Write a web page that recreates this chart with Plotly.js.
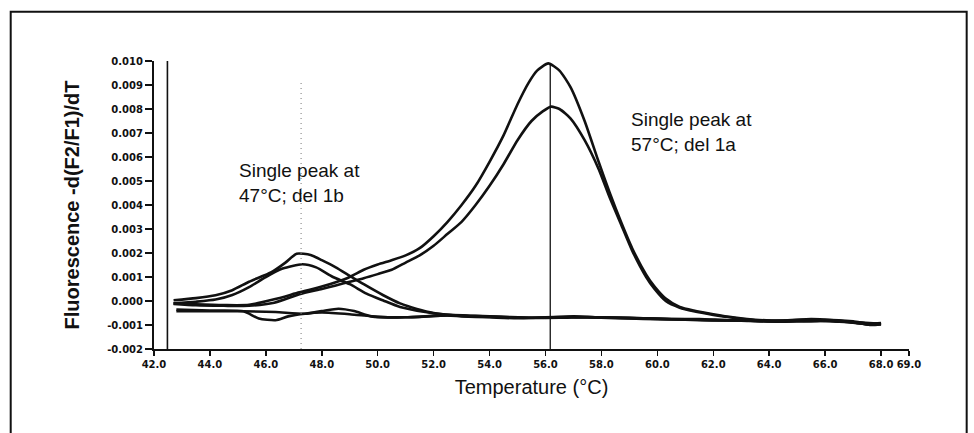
<!DOCTYPE html>
<html>
<head>
<meta charset="utf-8">
<script src="https://cdn.plot.ly/plotly-3.0.1.min.js"></script>
<style>
  html, body { margin: 0; padding: 0; background: #fff; }
  #chart { width: 974px; height: 433px; }
</style>
</head>
<body>
<div id="chart"></div>
<script>
// ---- Data ----
// del 1a, higher peak
const a1Temp = [42.7, 43.5, 44.5, 45.4, 46.3, 47.2, 48.0, 48.5, 49.0, 49.5, 50.0, 50.5, 51.0, 51.5, 52.0, 52.5, 53.0, 53.5, 54.0, 54.5, 55.0, 55.4, 55.7, 56.1, 56.5, 56.9, 57.4, 57.9, 58.3, 58.7, 59.1, 59.6, 59.9, 60.3, 60.8, 61.3, 62.0, 62.7, 63.5, 64.5, 65.5, 66.3, 67.0, 67.6, 68.0];
const a1Val  = [-0.0001, -0.00014, -0.00017, -0.00016, 0.00007, 0.00036, 0.0006, 0.00078, 0.001, 0.0013, 0.00152, 0.0017, 0.0019, 0.0022, 0.0027, 0.0033, 0.004, 0.0048, 0.0058, 0.0069, 0.0082, 0.0091, 0.0096, 0.0099, 0.0096, 0.0089, 0.0075, 0.0058, 0.0045, 0.0033, 0.0022, 0.0011, 0.0006, 0.0001, -0.00025, -0.0004, -0.00055, -0.00068, -0.00078, -0.00083, -0.00085, -0.00082, -0.0009, -0.00098, -0.00095];
// del 1a, lower peak
const a2Temp = [42.7, 43.5, 44.5, 45.4, 46.3, 47.2, 48.0, 48.5, 49.0, 49.5, 50.0, 50.5, 51.0, 51.5, 52.0, 52.5, 53.0, 53.5, 54.0, 54.5, 55.0, 55.5, 55.9, 56.2, 56.5, 56.9, 57.4, 57.9, 58.3, 58.7, 59.1, 59.6, 59.9, 60.3, 60.8, 61.3, 62.0, 62.7, 63.5, 64.5, 65.5, 66.3, 67.0, 67.6, 68.0];
const a2Val  = [-0.00012, -0.00018, -0.0002, -0.0002, -0.00007, 0.00028, 0.0005, 0.00065, 0.0008, 0.00095, 0.00112, 0.0013, 0.0016, 0.0019, 0.0023, 0.0028, 0.0033, 0.004, 0.0048, 0.0057, 0.0067, 0.0075, 0.0079, 0.0081, 0.008, 0.0076, 0.0067, 0.0055, 0.0043, 0.0032, 0.0021, 0.001, 0.0005, 0.0, -0.00028, -0.00043, -0.00058, -0.0007, -0.0008, -0.00082, -0.00075, -0.0008, -0.00088, -0.001, -0.00098];
// del 1b, higher peak
const b1Temp = [42.7, 43.5, 44.2, 44.8, 45.4, 46.2, 46.7, 47.1, 47.6, 48.0, 48.5, 49.0, 49.5, 50.2, 50.8, 51.4, 52.0, 52.6, 53.5, 54.5, 55.5, 56.5, 57.5, 58.5, 59.5, 60.5, 61.5, 62.5, 63.5, 64.5, 65.5, 66.5, 67.3, 68.0];
const b1Val  = [0.00003, 0.00012, 0.00024, 0.00045, 0.0008, 0.0012, 0.0016, 0.00197, 0.00192, 0.0017, 0.0014, 0.00105, 0.0007, 0.00024, -0.0001, -0.00033, -0.0005, -0.00058, -0.00062, -0.00066, -0.0007, -0.00068, -0.00068, -0.0007, -0.00072, -0.00075, -0.00075, -0.0008, -0.00082, -0.00085, -0.0008, -0.00085, -0.0009, -0.00095];
// del 1b, lower peak
const b2Temp = [42.7, 43.5, 44.2, 44.8, 45.4, 46.0, 46.6, 47.3, 47.8, 48.4, 49.0, 49.6, 50.2, 50.8, 51.7, 52.5, 53.5, 54.5, 55.5, 56.5, 57.5, 58.5, 59.5, 60.5, 61.5, 62.5, 63.5, 64.5, 65.5, 66.5, 67.3, 68.0];
const b2Val  = [-0.0001, -0.00003, 0.00006, 0.00025, 0.00058, 0.001, 0.00135, 0.00153, 0.0014, 0.001, 0.0007, 0.00031, 0.00002, -0.00025, -0.00046, -0.00058, -0.00063, -0.00067, -0.0007, -0.0007, -0.00067, -0.0007, -0.00073, -0.00076, -0.00078, -0.0008, -0.00083, -0.00086, -0.00082, -0.00086, -0.00092, -0.00097];
// baseline samples
const c1Temp = [42.8, 44.0, 45.2, 45.75, 46.35, 46.8, 47.4, 48.0, 49.0, 50.0, 51.0, 52.5, 53.0, 54.0, 55.0, 56.0, 57.0, 58.0, 59.0, 60.0, 61.0, 62.0, 63.0, 64.0, 65.0, 66.0, 67.0, 67.6, 68.0];
const c1Val  = [-0.00036, -0.0004, -0.00043, -0.00073, -0.0008, -0.00064, -0.00053, -0.00048, -0.00055, -0.00066, -0.00068, -0.0006, -0.00062, -0.00066, -0.0007, -0.0007, -0.00064, -0.00068, -0.0007, -0.00074, -0.00076, -0.0008, -0.0008, -0.00083, -0.00082, -0.00078, -0.00085, -0.00095, -0.00092];
const c2Temp = [42.8, 44.0, 45.2, 46.35, 47.4, 48.0, 48.6, 49.16, 49.76, 50.95, 52.5, 53.0, 54.0, 55.0, 56.0, 57.0, 58.0, 59.0, 60.0, 61.0, 62.0, 63.0, 64.0, 65.0, 66.0, 67.0, 67.6, 68.0];
const c2Val  = [-0.00042, -0.00043, -0.00043, -0.00046, -0.00053, -0.00042, -0.00032, -0.00042, -0.00064, -0.00068, -0.0006, -0.00064, -0.00068, -0.00072, -0.00068, -0.00066, -0.0007, -0.00073, -0.00076, -0.00078, -0.00081, -0.00082, -0.00085, -0.00079, -0.00081, -0.00088, -0.00098, -0.00094];

const xTickVals = [42, 44, 46, 48, 50, 52, 54, 56, 58, 60, 62, 64, 66, 68, 69];
const xTickText = ["42.0", "44.0", "46.0", "48.0", "50.0", "52.0", "54.0", "56.0", "58.0", "60.0", "62.0", "64.0", "66.0", "68.0", "69.0"];
const yTickVals = [-0.002, -0.001, 0.000, 0.001, 0.002, 0.003, 0.004, 0.005, 0.006, 0.007, 0.008, 0.009, 0.010];
const yTickText = ["-0.002", "-0.001", "0.000", "0.001", "0.002", "0.003", "0.004", "0.005", "0.006", "0.007", "0.008", "0.009", "0.010"];

const markerLines = [42.48, 47.26, 56.17];   // vertical cursor lines (°C)
const noteLeft  = {t: 44.98, v: 0.0049, text: "Single peak at<br>47°C; del 1b"};
const noteRight = {t: 58.99, v: 0.00703, text: "Single peak at<br>57°C; del 1a"};

// ---- Chart ----
const lineStyle = {color: '#111', width: 2.6, shape: 'spline', smoothing: 0.6};
function mk(x, y, name) {
  return {x: x, y: y, name: name, type: 'scatter', mode: 'lines', line: lineStyle, hoverinfo: 'skip'};
}
const traces = [
  mk(c1Temp, c1Val, 'baseline 1'),
  mk(c2Temp, c2Val, 'baseline 2'),
  mk(b1Temp, b1Val, 'del 1b (1)'),
  mk(b2Temp, b2Val, 'del 1b (2)'),
  mk(a1Temp, a1Val, 'del 1a (1)'),
  mk(a2Temp, a2Val, 'del 1a (2)')
];

const tickFont = {family: 'DejaVu Sans', size: 10, color: '#111', weight: 'bold'};

const layout = {
  width: 974, height: 433,
  margin: {l: 154, r: 65, t: 61, b: 84, pad: 0},
  paper_bgcolor: '#fff', plot_bgcolor: '#fff',
  showlegend: false,
  xaxis: {
    range: [42, 69], tickmode: 'array', tickvals: xTickVals, ticktext: xTickText,
    ticks: 'outside', ticklen: 5, tickwidth: 1.5, tickcolor: '#111',
    showline: true, linecolor: '#111', linewidth: 2,
    showgrid: false, zeroline: false, tickfont: tickFont,
    title: {text: 'Temperature (°C)', standoff: 11,
            font: {family: 'Liberation Sans, Arial, sans-serif', size: 20, color: '#111'}}
  },
  yaxis: {
    range: [-0.002, 0.010], tickmode: 'array', tickvals: yTickVals, ticktext: yTickText,
    ticks: 'outside', ticklen: 7, tickwidth: 1.5, tickcolor: '#111',
    showline: true, linecolor: '#111', linewidth: 2,
    showgrid: false, zeroline: false, tickfont: tickFont,
    title: {text: 'Fluorescence -d(F2/F1)/dT', standoff: 22,
            font: {family: 'Liberation Sans, Arial, sans-serif', size: 20, color: '#111', weight: 'bold'}}
  },
  shapes: [
    {type: 'line', xref: 'x', yref: 'y', x0: markerLines[0], x1: markerLines[0], y0: -0.002, y1: 0.010,
     line: {color: '#111', width: 1.6}},
    {type: 'line', xref: 'x', yref: 'y', x0: markerLines[1], x1: markerLines[1], y0: -0.002, y1: 0.0092,
     line: {color: '#777', width: 1, dash: '1px,4px'}},
    {type: 'line', xref: 'x', yref: 'y', x0: markerLines[2], x1: markerLines[2], y0: -0.002, y1: 0.0099,
     line: {color: '#111', width: 1.3}},
    {type: 'rect', xref: 'paper', yref: 'paper', x0: -0.1898, x1: 1.0764, y0: -0.32, y1: 1.1712,
     line: {color: '#111', width: 2}, fillcolor: 'rgba(0,0,0,0)'}
  ],
  annotations: [
    {x: noteLeft.t, y: noteLeft.v, xref: 'x', yref: 'y', text: noteLeft.text, showarrow: false,
     xanchor: 'left', yanchor: 'middle', align: 'left',
     font: {family: 'Liberation Sans, Arial, sans-serif', size: 19, color: '#111'}},
    {x: noteRight.t, y: noteRight.v, xref: 'x', yref: 'y', text: noteRight.text, showarrow: false,
     xanchor: 'left', yanchor: 'middle', align: 'left',
     font: {family: 'Liberation Sans, Arial, sans-serif', size: 19, color: '#111'}}
  ]
};

Plotly.newPlot('chart', traces, layout, {staticPlot: true, displayModeBar: false});
</script>
</body>
</html>
